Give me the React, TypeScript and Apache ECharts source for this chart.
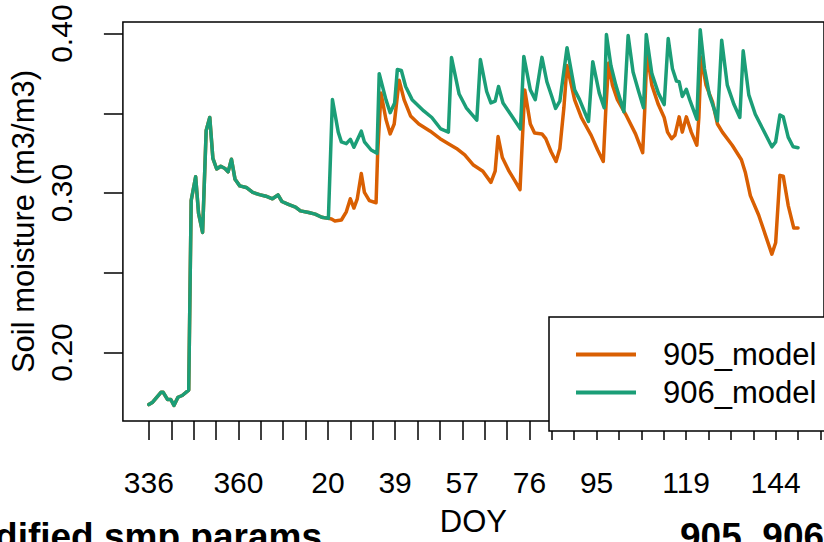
import React, { useEffect, useRef } from "react";
import * as echarts from "echarts";

// x is in axis-tick units (tick 0 = DOY 336, one tick per R axis tick)
const xTickPositions = [0, 1, 2, 3, 4, 5, 6, 7, 8, 9, 10, 11, 12, 13, 14, 15, 16, 17, 18, 19, 20, 21, 22, 23, 24, 25, 26, 27, 28, 29, 30];
const xLabelPositions = [0, 4, 8, 11, 14, 17, 20, 24, 28];
const xLabelTexts = ["336", "360", "20", "39", "57", "76", "95", "119", "144"];
const yTickValues = [0.2, 0.25, 0.3, 0.35, 0.4];
const yLabelValues = [0.2, 0.3, 0.4];

// shared part (both models identical)
const sharedX = [0.0, 0.17, 0.54, 0.64, 0.83, 0.98, 1.12, 1.3, 1.49, 1.78, 1.89, 2.09, 2.22, 2.4, 2.56, 2.72, 2.86, 3.03, 3.21, 3.4, 3.54, 3.69, 3.85, 4.06, 4.35, 4.64, 4.94, 5.23, 5.52, 5.77, 5.94, 6.26, 6.55, 6.77, 7.14, 7.43, 7.72, 8.02];
const sharedY = [0.1673, 0.1688, 0.175, 0.175, 0.1705, 0.1705, 0.1668, 0.1719, 0.173, 0.1764, 0.2953, 0.3102, 0.2872, 0.2753, 0.3392, 0.3474, 0.3218, 0.3151, 0.3168, 0.3154, 0.3133, 0.3212, 0.3086, 0.3045, 0.3035, 0.3004, 0.299, 0.298, 0.2964, 0.2988, 0.2947, 0.2927, 0.2912, 0.2888, 0.2878, 0.2868, 0.2848, 0.2841];

const tail905X = [8.16, 8.31, 8.6, 8.82, 9.0, 9.16, 9.31, 9.49, 9.63, 9.85, 10.15, 10.22, 10.37, 10.59, 10.78, 10.96, 11.18, 11.4, 11.69, 12.06, 12.57, 13.01, 13.38, 13.74, 14.11, 14.48, 14.92, 15.28, 15.47, 15.6, 15.79, 16.09, 16.38, 16.58, 16.79, 17.04, 17.23, 17.56, 17.73, 17.97, 18.19, 18.36, 18.54, 18.68, 19.02, 19.32, 19.76, 20.05, 20.3, 20.42, 20.54, 20.71, 20.93, 21.3, 21.74, 22.06, 22.15, 22.25, 22.47, 22.76, 23.02, 23.17, 23.35, 23.5, 23.69, 23.83, 24.01, 24.23, 24.48, 24.57, 24.67, 24.89, 25.18, 25.4, 25.62, 26.06, 26.47, 26.65, 26.87, 27.24, 27.83, 28.0, 28.19, 28.34, 28.56, 28.81, 29.0];
const tail905Y = [0.2837, 0.2825, 0.2831, 0.2882, 0.2964, 0.2906, 0.2964, 0.3122, 0.3004, 0.2953, 0.2939, 0.3249, 0.3627, 0.3463, 0.3371, 0.3433, 0.3708, 0.3586, 0.3484, 0.3433, 0.3388, 0.3341, 0.331, 0.328, 0.3239, 0.3178, 0.3137, 0.3067, 0.3137, 0.3354, 0.3223, 0.3137, 0.307, 0.3021, 0.3647, 0.3433, 0.3376, 0.3371, 0.3341, 0.3259, 0.3198, 0.328, 0.3535, 0.38, 0.3584, 0.3474, 0.3362, 0.327, 0.3198, 0.3545, 0.3816, 0.3677, 0.3586, 0.3494, 0.3371, 0.3253, 0.3515, 0.3882, 0.3677, 0.3555, 0.3474, 0.3382, 0.3341, 0.3362, 0.3478, 0.3382, 0.3478, 0.3382, 0.33, 0.3474, 0.3853, 0.3677, 0.3572, 0.3433, 0.3382, 0.33, 0.3209, 0.3127, 0.2984, 0.2862, 0.2617, 0.2688, 0.3111, 0.3106, 0.2923, 0.278, 0.278];

const tail906X = [8.2, 8.46, 8.6, 8.82, 9.0, 9.16, 9.49, 9.63, 9.93, 10.19, 10.29, 10.59, 10.78, 10.98, 11.1, 11.28, 11.47, 11.76, 12.28, 12.64, 13.04, 13.38, 13.52, 13.86, 14.18, 14.65, 14.81, 15.09, 15.28, 15.47, 15.62, 15.82, 16.16, 16.6, 16.75, 17.04, 17.26, 17.56, 17.78, 18.0, 18.17, 18.36, 18.68, 19.02, 19.24, 19.64, 19.83, 20.12, 20.34, 20.44, 20.64, 20.86, 21.22, 21.41, 21.63, 21.88, 22.1, 22.22, 22.47, 22.76, 23.02, 23.2, 23.39, 23.57, 23.69, 23.83, 24.01, 24.16, 24.48, 24.63, 24.82, 25.04, 25.26, 25.4, 25.59, 25.84, 26.14, 26.4, 26.55, 26.8, 27.09, 27.46, 27.83, 28.0, 28.19, 28.34, 28.56, 28.78, 29.0];
const tail906Y = [0.3587, 0.3382, 0.3321, 0.331, 0.3337, 0.3287, 0.3388, 0.3321, 0.327, 0.3249, 0.3749, 0.3586, 0.3504, 0.3565, 0.3775, 0.3769, 0.3668, 0.3586, 0.3515, 0.3474, 0.3402, 0.3382, 0.385, 0.3621, 0.3535, 0.3457, 0.3837, 0.3637, 0.3565, 0.3576, 0.3668, 0.3565, 0.3494, 0.3402, 0.3857, 0.3647, 0.3586, 0.3851, 0.3698, 0.3606, 0.3531, 0.3576, 0.3912, 0.3647, 0.3586, 0.3449, 0.3824, 0.3627, 0.3535, 0.3994, 0.38, 0.3677, 0.351, 0.3988, 0.376, 0.3637, 0.3535, 0.3994, 0.3749, 0.3627, 0.3555, 0.3969, 0.378, 0.3702, 0.3698, 0.3606, 0.3651, 0.3586, 0.3463, 0.4024, 0.378, 0.3616, 0.3524, 0.3453, 0.3959, 0.3677, 0.3555, 0.3474, 0.3892, 0.3616, 0.3494, 0.3392, 0.329, 0.3321, 0.349, 0.3478, 0.3351, 0.329, 0.3284];

const seriesNames = ["905_model", "906_model"];
const seriesColors = ["#D95F02", "#1B9E77"];

const FONT = "'Liberation Sans', Arial, Helvetica, sans-serif";

function pairs(xs: number[], ys: number[]) {
  return xs.map((x, i) => [x, ys[i]]);
}

export default function App() {
  const ref = useRef<HTMLDivElement>(null);
  useEffect(() => {
    if (!ref.current) return;
    const chart = echarts.init(ref.current, null, { renderer: "svg" });
    const data905 = pairs(sharedX, sharedY).concat(pairs(tail905X, tail905Y));
    const data906 = pairs(sharedX, sharedY).concat(pairs(tail906X, tail906Y));
    chart.setOption({
      animation: false,
      backgroundColor: "#ffffff",
      textStyle: { fontFamily: FONT },
      grid: {
        left: 121,
        top: 22,
        right: -9,
        bottom: 111,
        show: true,
        borderColor: "#000",
        borderWidth: 1.5,
        backgroundColor: "transparent",
      },
      xAxis: {
        type: "value",
        min: -1.16,
        max: 30.16,
        name: "DOY",
        nameLocation: "middle",
        nameGap: 85,
        nameTextStyle: { fontSize: 31, color: "#000", fontFamily: FONT },
        axisLine: { show: false, onZero: false },
        splitLine: { show: false },
        axisTick: {
          show: true,
          inside: false,
          length: 19,
          customValues: xTickPositions,
          lineStyle: { color: "#000", width: 1.5 },
        },
        axisLabel: {
          customValues: xLabelPositions,
          margin: 46,
          fontSize: 30,
          color: "#000",
          fontFamily: FONT,
          formatter: (v: number) => {
            const k = xLabelPositions.indexOf(Math.round(v));
            return k >= 0 ? xLabelTexts[k] : "";
          },
        },
      },
      yAxis: {
        type: "value",
        min: 0.157,
        max: 0.4073,
        name: "Soil moisture (m3/m3)",
        nameLocation: "middle",
        nameGap: 72,
        nameTextStyle: { fontSize: 31, color: "#000", fontFamily: FONT },
        axisLine: { show: false, onZero: false },
        splitLine: { show: false },
        axisTick: {
          show: true,
          inside: false,
          length: 19,
          customValues: yTickValues,
          lineStyle: { color: "#000", width: 1.5 },
        },
        axisLabel: {
          customValues: yLabelValues,
          rotate: 90,
          margin: 46,
          fontSize: 30,
          color: "#000",
          fontFamily: FONT,
          formatter: (v: number) => v.toFixed(2),
        },
      },
      legend: {
        orient: "vertical",
        left: 549,
        top: 317,
        padding: [22, 20, 23, 27],
        itemGap: 7,
        itemWidth: 60,
        itemHeight: 4,
        icon: "rect",
        borderColor: "#000",
        borderWidth: 1.5,
        borderRadius: 0,
        backgroundColor: "#fff",
        textStyle: { fontSize: 31, color: "#000", fontFamily: FONT, padding: [0, 0, 0, 22] },
        data: seriesNames,
      },
      graphic: [
        {
          type: "text",
          x: 322,
          y: 518,
          style: {
            text: "Modified smp params",
            font: "bold 37px " + FONT,
            fill: "#000",
            textAlign: "right",
            textVerticalAlign: "top",
          },
        },
        {
          type: "text",
          x: 680,
          y: 518,
          style: {
            text: "905_906",
            font: "bold 37px " + FONT,
            fill: "#000",
            textAlign: "left",
            textVerticalAlign: "top",
          },
        },
      ],
      series: [
        {
          name: seriesNames[0],
          type: "line",
          data: data905,
          symbol: "none",
          showSymbol: false,
          color: seriesColors[0],
          lineStyle: { width: 3.5, color: seriesColors[0], join: "round", cap: "round" },
        },
        {
          name: seriesNames[1],
          type: "line",
          data: data906,
          symbol: "none",
          showSymbol: false,
          color: seriesColors[1],
          lineStyle: { width: 3.5, color: seriesColors[1], join: "round", cap: "round" },
        },
      ],
    });
    return () => chart.dispose();
  }, []);
  return (
    <div
      ref={ref}
      style={{ position: "fixed", left: 0, top: 0, width: 824, height: 542, background: "#fff" }}
    />
  );
}
